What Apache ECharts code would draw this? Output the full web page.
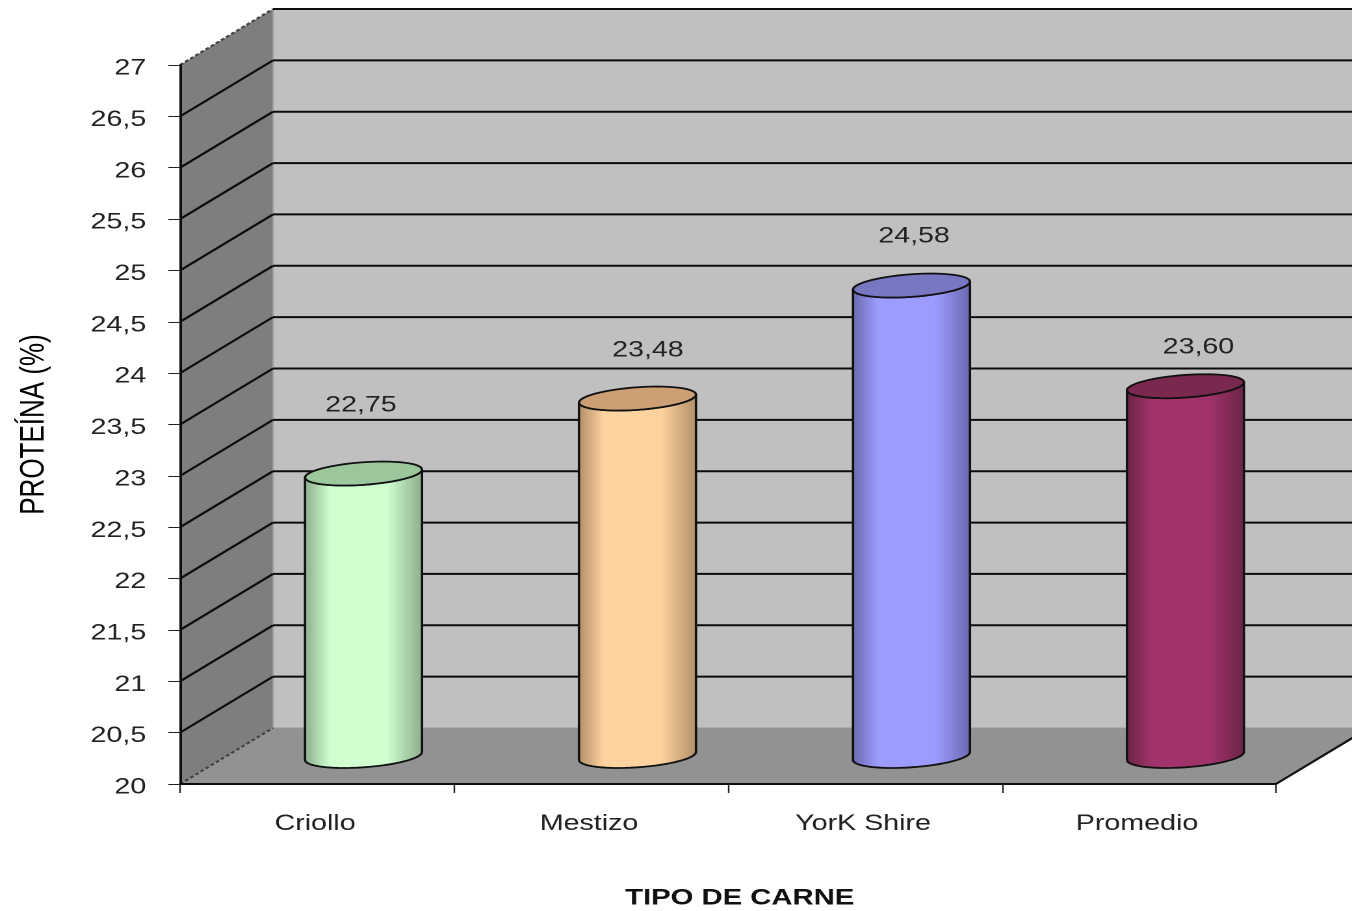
<!DOCTYPE html>
<html>
<head>
<meta charset="utf-8">
<title>Proteína por tipo de carne</title>
<script src="https://cdn.jsdelivr.net/npm/echarts@6/dist/echarts.min.js"></script>
<style>
  html, body { margin: 0; padding: 0; background: #fff; overflow: hidden; }
  /* The plot is laid out on a narrower sheet and widened to the page, so glyphs and strokes share the wide look. */
  #chart { width: 1040px; height: 911px; transform: scaleX(1.3); transform-origin: 0 0; }
</style>
</head>
<body>
<div id="chart"></div>
<script>
// Chart data
const categories = ['Criollo', 'Mestizo', 'YorK Shire', 'Promedio'];
const proteinValues = [22.75, 23.48, 24.58, 23.60];
const yTicks = [20, 20.5, 21, 21.5, 22, 22.5, 23, 23.5, 24, 24.5, 25, 25.5, 26, 26.5, 27];

// Per-column label nudges [dx, dy] from the top of the cylinder
const labelNudge = [[-2, -68], [8, -48], [2, -49], [10, -39]];

// Cylinder colours: body edge, body centre, lid
const palette = [
  ['#8aab8a', '#d0ffd0', '#9cc79c'],
  ['#b08d68', '#ffd39f', '#cc9f75'],
  ['#6868ad', '#9c9cff', '#7777c4'],
  ['#6a2344', '#a0346a', '#7a2850']
];

// Oblique depth of the 3D box
const DEPTH_X = 71.5, DEPTH_Y = -56;
const CYL_RX = 45, CYL_RY = 11.3, CYL_TILT = -0.089;

const decimal = v => '{tick|' + String(v).replace('.', ',') + '}';

function ellipsePoints(cx, cy, from, to, n) {
  const pts = [];
  for (let i = 0; i <= n; i++) {
    const t = from + (to - from) * i / n;
    const ex = CYL_RX * Math.cos(t);
    pts.push([cx + ex, cy + CYL_RY * Math.sin(t) + CYL_TILT * ex]);
  }
  return pts;
}

// Back wall, side wall and floor
function renderBox(params, api) {
  const cs = params.coordSys;
  const x0 = cs.x, x1 = cs.x + cs.width;
  const yTop = api.coord([0, 27])[1], yBase = api.coord([0, 20])[1];
  const xb = x0 + DEPTH_X, xe = x1 + DEPTH_X;
  return { type: 'group', children: [
    { type: 'polygon', silent: true,
      shape: { points: [[xb, yTop + DEPTH_Y], [xe, yTop + DEPTH_Y], [xe, yBase + DEPTH_Y], [xb, yBase + DEPTH_Y]] },
      style: { fill: '#c0c0c0' } },
    { type: 'polygon', silent: true,
      shape: { points: [[x0, yTop], [xb, yTop + DEPTH_Y], [xb, yBase + DEPTH_Y], [x0, yBase]] },
      style: { fill: '#7e7e7e' } },
    { type: 'polygon', silent: true,
      shape: { points: [[x0, yBase], [xb, yBase + DEPTH_Y], [xe, yBase + DEPTH_Y], [x1, yBase]] },
      style: { fill: '#929292' } },
    { type: 'line', silent: true,
      shape: { x1: xb, y1: yTop + DEPTH_Y, x2: xb, y2: yBase + DEPTH_Y },
      style: { stroke: '#9c9c9c', lineWidth: 1 } },
    { type: 'line', silent: true,
      shape: { x1: x1, y1: yBase, x2: xe, y2: yBase + DEPTH_Y },
      style: { stroke: '#111', lineWidth: 2 } }
  ]};
}

// One gridline: slanted across the side wall, then level along the back wall
function renderGridline(params, api) {
  const cs = params.coordSys;
  const v = api.value(0);
  const y = api.coord([0, v])[1];
  const x0 = cs.x, xb = cs.x + DEPTH_X, xe = cs.x + cs.width + DEPTH_X;
  const edge = v === 20 || v === 27;
  return { type: 'group', children: [
    { type: 'line', silent: true,
      shape: { x1: x0, y1: y, x2: xb, y2: y + DEPTH_Y },
      style: { stroke: edge ? '#444' : '#0c0c0c', lineWidth: 2, lineDash: edge ? [3, 2] : null } },
    { type: 'line', silent: true,
      shape: { x1: xb, y1: y + DEPTH_Y, x2: xe, y2: y + DEPTH_Y },
      style: { stroke: v === 20 ? '#9a9a9a' : '#0c0c0c', lineWidth: v === 20 ? 1 : 2 } }
  ]};
}

// One cylinder standing midway through the depth of the box, with its value above
function renderCylinder(params, api) {
  const i = params.dataIndex;
  const value = api.value(1);
  const top = api.coord([i, value]);
  const base = api.coord([i, 20]);
  const cx = top[0] + DEPTH_X / 2;
  const topY = top[1] + DEPTH_Y / 2;
  const baseY = base[1] + DEPTH_Y / 2;
  const c = palette[i];
  const outline = { stroke: '#111', lineWidth: 1.8, lineJoin: 'round' };
  const body = ellipsePoints(cx, baseY, 0, Math.PI, 28).concat(ellipsePoints(cx, topY, Math.PI, 0, 28));
  return { type: 'group', children: [
    { type: 'polygon', silent: true, shape: { points: body },
      style: Object.assign({
        fill: { type: 'linear', x: 0, y: 0, x2: 1, y2: 0, colorStops: [
          { offset: 0, color: c[0] }, { offset: 0.22, color: c[1] },
          { offset: 0.7, color: c[1] }, { offset: 1, color: c[0] } ] }
      }, outline) },
    { type: 'polygon', silent: true, shape: { points: ellipsePoints(cx, topY, 0, Math.PI * 2, 56) },
      style: Object.assign({ fill: c[2] }, outline) },
    { type: 'text', silent: true,
      x: cx + labelNudge[i][0], y: topY + labelNudge[i][1],
      style: { text: value.toFixed(2).replace('.', ','), fill: '#222', textAlign: 'center', textVerticalAlign: 'middle',
        font: '22px "Liberation Sans", Arial, sans-serif' } }
  ]};
}

const chart = echarts.init(document.getElementById('chart'), null, { devicePixelRatio: 2 });

chart.setOption({
  animation: false,
  backgroundColor: '#ffffff',
  textStyle: { fontFamily: '"Liberation Sans", Arial, sans-serif' },
  grid: { left: 138.5, right: 58.5, top: 65, bottom: 127, containLabel: false, outerBoundsMode: 'none' },
  xAxis: {
    type: 'category',
    data: categories,
    z: 10,
    name: 'TIPO DE CARNE',
    nameLocation: 'middle',
    nameGap: 103,
    nameTextStyle: { color: '#111', fontSize: 22.5, fontWeight: 'bold', padding: [0, 0, 0, 18] },
    axisLine: { lineStyle: { color: '#0c0c0c', width: 2 } },
    axisTick: { show: true, length: 9, alignWithLabel: false, lineStyle: { color: '#222', width: 1.2 } },
    axisLabel: { color: '#222', fontSize: 22, margin: 29, padding: [0, 3, 0, 0] },
    splitLine: { show: false }
  },
  yAxis: {
    type: 'value',
    min: 20,
    max: 27,
    interval: 0.5,
    z: 10,
    name: 'PROTEÍNA (%)',
    nameLocation: 'middle',
    nameGap: 99,
    nameRotate: 90,
    nameTextStyle: { color: '#000', fontSize: 26 },
    axisLine: { show: true, lineStyle: { color: '#0c0c0c', width: 2 } },
    axisTick: { show: true, length: 9, lineStyle: { color: '#222', width: 1 } },
    axisLabel: {
      color: '#222', margin: 26, formatter: decimal,
      rich: { tick: { color: '#222', fontSize: 22, padding: [7, 0, 0, 0] } }
    },
    splitLine: { show: false }
  },
  series: [
    { type: 'custom', name: 'caja', z: 1, silent: true, renderItem: renderBox, data: [[0, 20]], encode: { x: 0, y: 1 } },
    { type: 'custom', name: 'rejilla', z: 2, silent: true, renderItem: renderGridline, data: yTicks.map(v => [v]), encode: { y: 0 } },
    { type: 'custom', name: 'Proteína', z: 3, silent: true, renderItem: renderCylinder,
      data: categories.map((c, i) => [i, proteinValues[i]]), encode: { x: 0, y: 1 } }
  ]
});
</script>
</body>
</html>
